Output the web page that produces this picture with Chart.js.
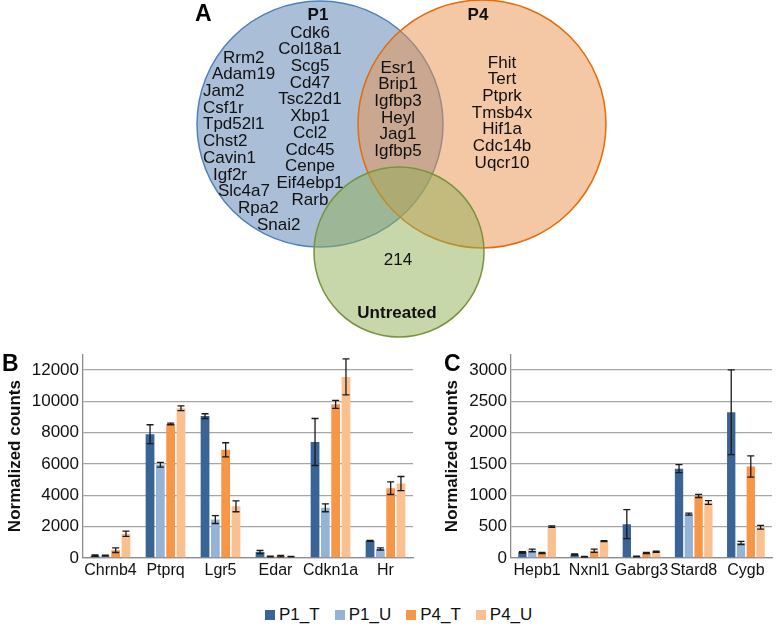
<!DOCTYPE html>
<html>
<head>
<meta charset="utf-8">
<script src="https://cdn.jsdelivr.net/npm/chart.js@4.4.1/dist/chart.umd.min.js"></script>
<style>
  body { margin: 0; background: #fff; }
  #wrap { position: relative; width: 780px; height: 628px; font-family: "Liberation Sans", Arial, sans-serif; }
  #wrap canvas { position: absolute; }
  .panel { position: absolute; font-weight: bold; font-size: 23px; line-height: 23px; color: #000; }
  #legend { position: absolute; left: 265px; top: 605px; display: flex; align-items: center; font-size: 17px; color: #111; }
  #legend .item { display: flex; align-items: center; margin-right: 15px; }
  #legend .sw { width: 10px; height: 10px; margin-right: 4px; }
</style>
</head>
<body>
<div id="wrap">
  <canvas id="venn" width="780" height="340" style="left:0;top:0"></canvas>
  <canvas id="chartB" width="420" height="250" style="left:0;top:340px"></canvas>
  <canvas id="chartC" width="360" height="250" style="left:420px;top:340px"></canvas>
  <div class="panel" style="left:195px;top:2px">A</div>
  <div class="panel" style="left:2px;top:352px">B</div>
  <div class="panel" style="left:444px;top:352px">C</div>
  <div id="legend"></div>
</div>
<script>
'use strict';

// ---- Venn (panel A) ----
const vennSets = ['P1', 'P4', 'Untreated'];
const vennCx = [320, 482, 399];
const vennCy = [124, 124, 252];
const vennR = [123, 124, 85];

const p1OnlyLeft = ['Rrm2', 'Adam19', 'Jam2', 'Csf1r', 'Tpd52l1', 'Chst2', 'Cavin1', 'Igf2r', 'Slc4a7', 'Rpa2', 'Snai2'];
const p1OnlyMid = ['Cdk6', 'Col18a1', 'Scg5', 'Cd47', 'Tsc22d1', 'Xbp1', 'Ccl2', 'Cdc45', 'Cenpe', 'Eif4ebp1', 'Rarb'];
const p1p4Shared = ['Esr1', 'Brip1', 'Igfbp3', 'Heyl', 'Jag1', 'Igfbp5'];
const p4Only = ['Fhit', 'Tert', 'Ptprk', 'Tmsb4x', 'Hif1a', 'Cdc14b', 'Uqcr10'];
const untreatedCount = 214;

// ---- bar charts (panels B and C) ----
const seriesNames = ['P1_T', 'P1_U', 'P4_T', 'P4_U'];
const seriesColors = ['#3A6396', '#95B3D7', '#F79646', '#FAC090'];

const genesB = ['Chrnb4', 'Ptprq', 'Lgr5', 'Edar', 'Cdkn1a', 'Hr'];
const ticksB = [0, 2000, 4000, 6000, 8000, 10000, 12000];
const p1tB = [150, 7900, 9050, 380, 7400, 1100];
const p1tErrB = [40, 600, 150, 100, 1500, 30];
const p1uB = [150, 5950, 2450, 100, 3200, 580];
const p1uErrB = [30, 150, 250, 20, 250, 70];
const p4tB = [500, 8550, 6900, 120, 9800, 4450];
const p4tErrB = [150, 50, 450, 50, 250, 400];
const p4uB = [1550, 9550, 3300, 90, 11550, 4750];
const p4uErrB = [170, 150, 350, 20, 1150, 450];

const genesC = ['Hepb1', 'Nxnl1', 'Gabrg3', 'Stard8', 'Cygb'];
const ticksC = [0, 500, 1000, 1500, 2000, 2500, 3000];
const p1tC = [90, 55, 540, 1425, 2325];
const p1tErrC = [10, 10, 230, 65, 675];
const p1uC = [120, 20, 25, 700, 240];
const p1uErrC = [20, 5, 5, 15, 25];
const p4tC = [80, 115, 80, 990, 1460];
const p4tErrC = [8, 25, 8, 25, 170];
const p4uC = [500, 270, 100, 885, 490];
const p4uErrC = [12, 8, 8, 30, 30];

const FONT = '"Liberation Sans", Arial, sans-serif';
Chart.defaults.font.family = FONT;
Chart.defaults.color = '#111';

// gene list text inside the circles
const vennText = {
  id: 'vennText',
  afterDatasetsDraw(chart) {
    const ctx = chart.ctx;
    const xs = chart.scales.x, ys = chart.scales.y;
    const step = 16.7;
    const leftColX = [223, 212, 203, 203, 203, 203, 203, 213, 218, 238, 257];
    ctx.save();
    ctx.fillStyle = '#111';
    ctx.textBaseline = 'middle';
    ctx.font = '17px ' + FONT;
    ctx.textAlign = 'left';
    p1OnlyLeft.forEach((g, i) => ctx.fillText(g, xs.getPixelForValue(leftColX[i]), ys.getPixelForValue(58 + i * step)));
    ctx.textAlign = 'center';
    p1OnlyMid.forEach((g, i) => ctx.fillText(g, xs.getPixelForValue(310), ys.getPixelForValue(33 + i * step)));
    p1p4Shared.forEach((g, i) => ctx.fillText(g, xs.getPixelForValue(398), ys.getPixelForValue(68 + i * step)));
    p4Only.forEach((g, i) => ctx.fillText(g, xs.getPixelForValue(502), ys.getPixelForValue(63 + i * step)));
    ctx.fillText(String(untreatedCount), xs.getPixelForValue(398), ys.getPixelForValue(260));
    ctx.font = 'bold 17px ' + FONT;
    ctx.fillText(vennSets[0], xs.getPixelForValue(318), ys.getPixelForValue(15));
    ctx.fillText(vennSets[1], xs.getPixelForValue(478), ys.getPixelForValue(15));
    ctx.fillText(vennSets[2], xs.getPixelForValue(397), ys.getPixelForValue(313));
    ctx.restore();
  }
};

new Chart(document.getElementById('venn'), {
  type: 'bubble',
  data: {
    datasets: [{
      data: vennSets.map((s, i) => ({x: vennCx[i], y: vennCy[i], r: vennR[i]})),
      backgroundColor: ['rgba(85,125,175,0.5)', 'rgba(235,145,75,0.5)', 'rgba(145,175,85,0.5)'],
      borderColor: ['#4F81BD', '#E46C0A', '#77933C'],
      borderWidth: 1.5,
      hoverRadius: 0,
      clip: false
    }]
  },
  options: {
    responsive: false,
    animation: false,
    events: [],
    layout: { padding: 0, autoPadding: false },
    plugins: { legend: { display: false }, tooltip: { enabled: false } },
    scales: {
      x: { type: 'linear', min: 0, max: 780, display: false },
      y: { type: 'linear', min: 0, max: 340, reverse: true, display: false }
    }
  },
  plugins: [vennText]
});

// error bars drawn from each dataset's `errors`
const errorBars = {
  id: 'errorBars',
  afterDatasetsDraw(chart) {
    const ctx = chart.ctx;
    const ys = chart.scales.y;
    ctx.save();
    ctx.strokeStyle = '#1a1a1a';
    ctx.lineWidth = 1.3;
    chart.data.datasets.forEach((ds, di) => {
      chart.getDatasetMeta(di).data.forEach((bar, i) => {
        const v = ds.data[i], e = ds.errors[i];
        const y1 = ys.getPixelForValue(v + e), y2 = ys.getPixelForValue(Math.max(0, v - e));
        const x = bar.x, w = 3.5;
        ctx.beginPath();
        ctx.moveTo(x, y1); ctx.lineTo(x, y2);
        ctx.moveTo(x - w, y1); ctx.lineTo(x + w, y1);
        ctx.moveTo(x - w, y2); ctx.lineTo(x + w, y2);
        ctx.stroke();
      });
    });
    ctx.restore();
  }
};

function barChart(id, labels, values, errors, tickVals, yMax, axisW, padRight, titlePad) {
  return new Chart(document.getElementById(id), {
    type: 'bar',
    data: {
      labels: labels,
      datasets: seriesNames.map((name, i) => ({
        label: name,
        data: values[i],
        errors: errors[i],
        backgroundColor: seriesColors[i],
        borderWidth: 0,
        categoryPercentage: 0.75,
        barPercentage: 0.85
      }))
    },
    options: {
      responsive: false,
      animation: false,
      events: [],
      layout: { padding: { top: 14, right: padRight, left: 0, bottom: 0 } },
      plugins: { legend: { display: false }, tooltip: { enabled: false } },
      scales: {
        x: {
          grid: { display: false, drawTicks: false },
          border: { display: true, color: '#8c8c8c', width: 1.3 },
          ticks: { font: { size: 16 }, color: '#111', padding: 3, maxRotation: 0, autoSkip: false },
          afterFit: (s) => { s.height = 32; }
        },
        y: {
          min: 0,
          max: yMax,
          grid: { color: '#a6a6a6', lineWidth: 1.3, drawTicks: false },
          border: { display: true, color: '#8c8c8c', width: 1.3 },
          ticks: { autoSkip: false, font: { size: 17 }, color: '#111', padding: 4, callback: (v) => String(v) },
          afterBuildTicks: (s) => { s.ticks = tickVals.map((v) => ({ value: v })); },
          title: { display: true, text: 'Normalized counts', font: { size: 17, weight: 'bold' }, color: '#111', padding: { top: titlePad, bottom: 0 } },
          afterFit: (s) => { s.width = axisW; }
        }
      }
    },
    plugins: [errorBars]
  });
}

barChart('chartB', genesB, [p1tB, p1uB, p4tB, p4uB], [p1tErrB, p1uErrB, p4tErrB, p4uErrB], ticksB, 13000, 83, 7, 5);
barChart('chartC', genesC, [p1tC, p1uC, p4tC, p4uC], [p1tErrC, p1uErrC, p4tErrC, p4uErrC], ticksC, 3250, 91, 8, 22);

// shared legend
const legend = document.getElementById('legend');
seriesNames.forEach((name, i) => {
  const item = document.createElement('div');
  item.className = 'item';
  const sw = document.createElement('span');
  sw.className = 'sw';
  sw.style.background = seriesColors[i];
  const txt = document.createElement('span');
  txt.textContent = name;
  item.appendChild(sw);
  item.appendChild(txt);
  legend.appendChild(item);
});
</script>
</body>
</html>
